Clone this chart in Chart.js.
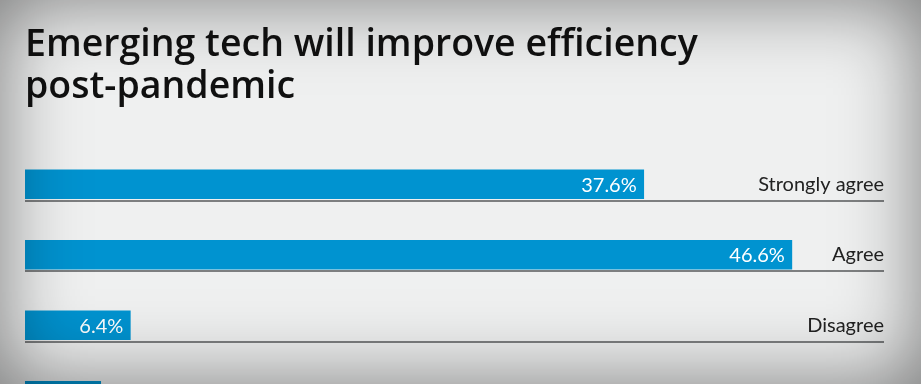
<!DOCTYPE html>
<html>
<head>
<meta charset="utf-8">
<script src="https://cdn.jsdelivr.net/npm/chart.js@4"></script>
<style>
  html, body { margin: 0; padding: 0; }
  body {
    width: 921px; height: 384px; overflow: hidden; position: relative;
    background: #eff0f0;
  }
  #wrap { position: absolute; left: 0; top: 0; width: 921px; height: 460px; }
  #shade {
    position: absolute; left: 0; top: 0; width: 921px; height: 384px;
    pointer-events: none;
    box-shadow: inset 0 0 80px rgba(0, 0, 0, 0.5);
  }
</style>
</head>
<body>
<div id="wrap"><canvas id="chart"></canvas></div>
<div id="shade"></div>
<script>
const titleLines = ['Emerging tech will improve efficiency', 'post-pandemic'];
const categories = ['Strongly agree', 'Agree', 'Disagree', 'Strongly disagree'];
const values = [37.6, 46.6, 6.4, 4.6];

const barColor = '#0093d0';
const font = 'Lato, "Noto Sans", sans-serif';
const titleFont = '"Open Sans", Lato, sans-serif';

// grey rule under each bar, full width of the plot
const rules = {
  id: 'rules',
  beforeDatasetsDraw(chart) {
    const { ctx, chartArea } = chart;
    const meta = chart.getDatasetMeta(0);
    ctx.save();
    ctx.strokeStyle = '#7d7f80';
    ctx.lineWidth = 2;
    meta.data.forEach(bar => {
      const y = Math.round(bar.y + bar.height / 2) + 2;
      ctx.beginPath();
      ctx.moveTo(chartArea.left, y);
      ctx.lineTo(chartArea.right, y);
      ctx.stroke();
    });
    ctx.restore();
  }
};

// white value text inside the end of each bar
const valueLabels = {
  id: 'valueLabels',
  afterDatasetsDraw(chart) {
    const { ctx } = chart;
    const meta = chart.getDatasetMeta(0);
    ctx.save();
    ctx.fillStyle = '#ffffff';
    ctx.font = '20px ' + font;
    ctx.textAlign = 'right';
    ctx.textBaseline = 'middle';
    meta.data.forEach((bar, i) => {
      ctx.fillText(values[i].toFixed(1) + '%', bar.x - 7, bar.y + 1);
    });
    ctx.restore();
  }
};

new Chart(document.getElementById('chart'), {
  type: 'bar',
  data: {
    labels: categories,
    datasets: [{
      data: values,
      backgroundColor: barColor,
      borderWidth: 0,
      barThickness: 29
    }]
  },
  options: {
    indexAxis: 'y',
    responsive: true,
    maintainAspectRatio: false,
    animation: false,
    layout: { padding: { left: 25, right: 29, top: 0, bottom: 29 } },
    plugins: {
      legend: { display: false },
      tooltip: { enabled: false },
      title: {
        display: true,
        text: titleLines,
        align: 'start',
        color: '#111111',
        font: { family: titleFont, size: 37.5, weight: 600, lineHeight: 1.1 },
        padding: { top: 25, bottom: 41.5 }
      }
    },
    scales: {
      x: { display: false, min: 0, max: 52.2 },
      y: {
        position: 'right',
        grid: { display: false },
        border: { display: false },
        ticks: {
          mirror: true,
          padding: 0,
          color: '#222222',
          font: { family: font, size: 20 }
        }
      }
    }
  },
  plugins: [rules, valueLabels]
});
</script>
</body>
</html>
